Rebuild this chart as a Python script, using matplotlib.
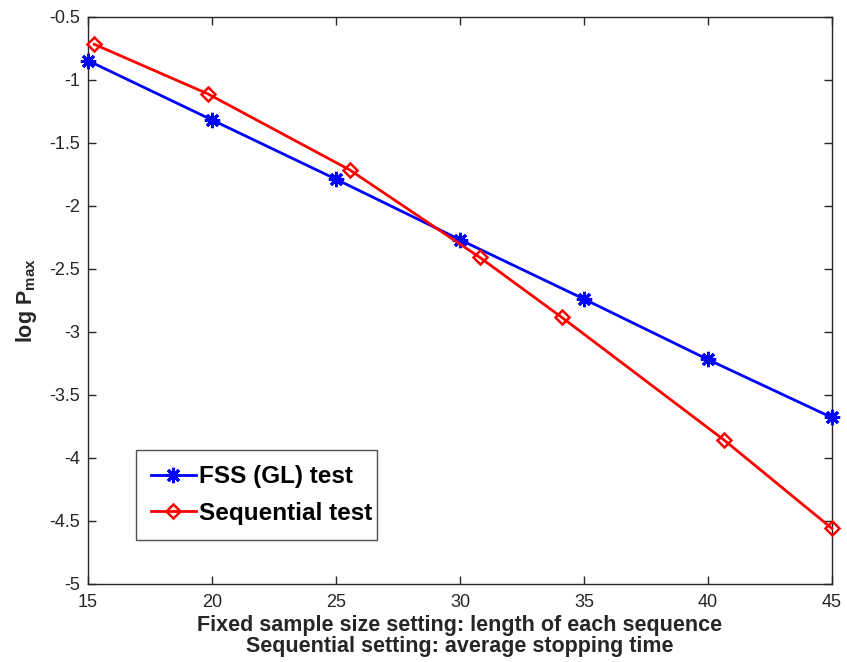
import matplotlib
matplotlib.use("Agg")
import matplotlib.pyplot as plt

# data
fss_x = [15, 20, 25, 30, 35, 40, 45]
fss_y = [-0.85, -1.32, -1.79, -2.27, -2.74, -3.22, -3.68]

seq_x = [15.25, 19.85, 25.56, 30.8, 34.11, 40.65, 45]
seq_y = [-0.72, -1.115, -1.717, -2.41, -2.886, -3.858, -4.559]

xticks = [15, 20, 25, 30, 35, 40, 45]
yticks = [-5, -4.5, -4, -3.5, -3, -2.5, -2, -1.5, -1, -0.5]
ytick_labels = ["-5", "-4.5", "-4", "-3.5", "-3", "-2.5", "-2", "-1.5", "-1", "-0.5"]

plt.rcParams['font.family'] = ['Liberation Sans', 'DejaVu Sans']
plt.rcParams['mathtext.fontset'] = 'custom'
plt.rcParams['mathtext.rm'] = 'Liberation Sans'
plt.rcParams['mathtext.bf'] = 'Liberation Sans:bold'

fig = plt.figure(figsize=(8.47, 6.62), dpi=100)
ax = fig.add_axes([0.104, 0.118, 0.878, 0.857])

asterisk = (8, 2, 0)
ax.plot(fss_x, fss_y, color='b', lw=2.0, marker=asterisk, ms=11, mew=2.2,
        label='FSS (GL) test', clip_on=False, zorder=3)
ax.plot(seq_x, seq_y, color='r', lw=2.0, marker='D', ms=7, mew=1.8,
        mfc='none', label='Sequential test', clip_on=False, zorder=3)

ax.set_xlim(15, 45)
ax.set_ylim(-5, -0.5)
ax.set_xticks(xticks)
ax.set_yticks(yticks)
ax.set_yticklabels(ytick_labels)

for s in ax.spines.values():
    s.set_color('#262626')
    s.set_linewidth(1.0)
ax.tick_params(direction='in', length=6, width=1.0, top=True, right=True,
               labelsize=13, colors='#262626', labelcolor='#262626')
ax.tick_params(axis='x', pad=7)
ax.tick_params(axis='y', pad=6)

ax.set_xlabel('Fixed sample size setting: length of each sequence\n'
              'Sequential setting: average stopping time',
              fontsize=15.5, fontweight='bold', labelpad=3, linespacing=1.0,
              color='#262626')
ax.set_ylabel(r'log P$_{\mathbf{max}}$', fontsize=15.5, fontweight='bold',
              labelpad=7, color='#262626')

leg = ax.legend(loc='lower left', bbox_to_anchor=(0.064, 0.078, 0.325, 0.164),
                mode='expand', fancybox=False, edgecolor='#262626',
                prop={'weight': 'bold', 'size': 17.5}, handlelength=1.85,
                handletextpad=0.15, borderaxespad=0, borderpad=0.62,
                labelspacing=0.55)
leg.get_frame().set_linewidth(1.0)
for t in leg.get_texts():
    t.set_color('black')

fig.savefig('out.png', dpi=100)
